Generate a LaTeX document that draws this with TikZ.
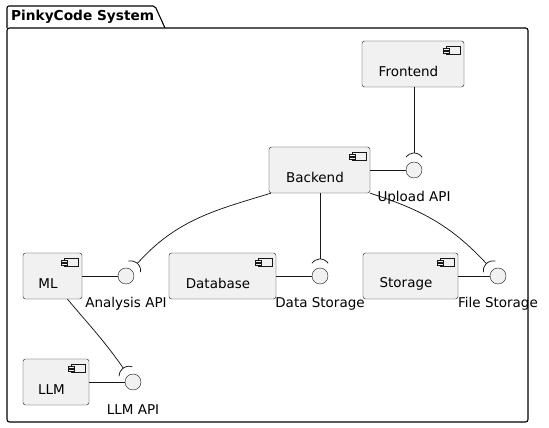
\documentclass[tikz,border=0pt]{standalone}
\usepackage{fontspec}
\setmainfont{DejaVu Sans}
\usetikzlibrary{calc}

\definecolor{boxfill}{HTML}{F1F1F1}
\definecolor{boxline}{HTML}{181818}

\tikzset{
  compbox/.style={draw=boxline, fill=boxfill, rounded corners=2.5pt, line width=0.4pt,
    minimum height=46pt, inner sep=0pt, minimum width=#1},
  complabel/.style={label={[anchor=base, xshift=-4.5pt, yshift=-7.5pt]center:#1}},
  iface/.style={circle, draw=boxline, fill=boxfill, line width=0.4pt, minimum size=16pt, inner sep=0pt},
  ifacelabel/.style={label={[anchor=base, yshift=-28pt]center:#1}},
  wire/.style={line width=0.75pt, draw=boxline}
}

\newcommand{\compicon}[1]{%
  \draw[line width=0.4pt, draw=boxline, fill=boxfill] ([shift={(-18,-5.5)}]#1.north east) rectangle ++(14,-7.5);
  \draw[line width=0.4pt, draw=boxline, fill=boxfill] ([shift={(-21,-7.5)}]#1.north east) rectangle ++(6,-2);
  \draw[line width=0.4pt, draw=boxline, fill=boxfill] ([shift={(-21,-10.5)}]#1.north east) rectangle ++(6,-2);
}
\newcommand{\socket}[2]{%
  \pgfmathsetmacro\sockA{#2-55}\pgfmathsetmacro\sockB{#2+55}%
  \draw[wire] ([shift={(#2:7)}]#1.center) ++(\sockA:10) arc[start angle=\sockA, end angle=\sockB, radius=10];
  \coordinate (#1-s) at ([shift={(#2:17)}]#1.center);
}

\begin{document}
\begin{tikzpicture}[x=1pt, y=1pt, font=\fontsize{13.5}{16}\selectfont]
    \useasboundingbox (0,0) rectangle (549,428);
    \draw[line width=1.1pt, rounded corners=2pt] (7,400) -- (7,422) -- (155,422) -- (165,400);
    \draw[line width=1.1pt, rounded corners=2.5pt, fill=white] (7,400) -- (528,400) -- (528,6) -- (7,6) -- cycle;
    \node[anchor=base west, inner sep=0pt, font=\fontsize{13.7}{16}\selectfont\bfseries] (title) at (11,407) {PinkyCode System};

    \node[compbox=102pt, complabel=Frontend] (frontend) at (413,364) {};
    \node[compbox=101pt, complabel=Backend] (backend) at (319.5,258) {};
    \node[compbox=59pt, complabel=ML] (ml) at (52.5,152) {};
    \node[compbox=107pt, complabel=Database] (database) at (222.5,152) {};
    \node[compbox=95pt, complabel=Storage] (storage) at (410.5,152) {};
    \node[compbox=66pt, complabel=LLM] (llm) at (56,46) {};
    \foreach \c in {frontend,backend,ml,database,storage,llm} {\compicon{\c}}

    \node[iface, ifacelabel=Upload API] (upapi) at (414,258) {};
    \node[iface, ifacelabel=Analysis API] (anapi) at (126,152) {};
    \node[iface, ifacelabel=Data Storage] (datast) at (320,152) {};
    \node[iface, ifacelabel=File Storage] (filest) at (498,152) {};
    \node[iface, ifacelabel=LLM API] (llmapi) at (133,46) {};

    \socket{upapi}{90}
    \socket{anapi}{48}
    \socket{datast}{90}
    \socket{filest}{133}
    \socket{llmapi}{125}

    \draw[wire] (backend) -- (upapi);
    \draw[wire] (ml) -- (anapi);
    \draw[wire] (database) -- (datast);
    \draw[wire] (storage) -- (filest);
    \draw[wire] (llm) -- (llmapi);

    \draw[wire] (frontend.south -| upapi) -- (upapi-s);
    \draw[wire] (backend.south -| datast) -- (datast-s);
    \draw[wire] ([xshift=2pt]backend.south west) to[out=197, in=48] (anapi-s);
    \draw[wire] (backend.south east) to[out=-18, in=133] (filest-s);
    \draw[wire] ([xshift=15pt]ml.south) to[out=-50, in=125] (llmapi-s);
  \end{tikzpicture}
\end{document}
